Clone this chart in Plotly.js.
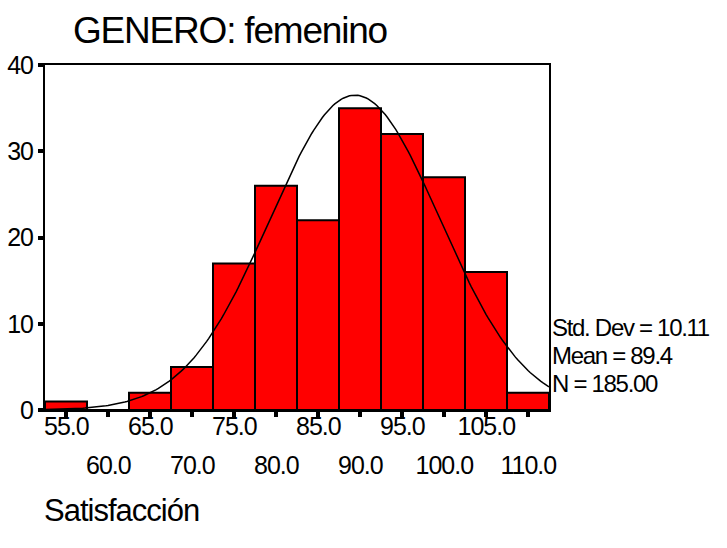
<!DOCTYPE html>
<html>
<head>
<meta charset="utf-8">
<script src="https://cdn.plot.ly/plotly-3.0.1.min.js"></script>
<style>
html,body{margin:0;padding:0;background:#fff;}
#chart{width:727px;height:548px;}
#chart .ytick text { letter-spacing: -1px; }
#chart .gtitle { letter-spacing: -1.2px; }
#chart .annotation-text { letter-spacing: -1px; }
#chart .annotation.stat .annotation-text { letter-spacing: -1.3px; }
</style>
</head>
<body>
<div id="chart"></div>
<script>
// ---- data ----
const binCenters = [55, 60, 65, 70, 75, 80, 85, 90, 95, 100, 105, 110];
const binCounts  = [1, 0, 2, 5, 17, 26, 22, 35, 32, 27, 16, 2];
const binWidth = 5;
const rowOneTicks = [55, 65, 75, 85, 95, 105];
const rowTwoTicks = [60, 70, 80, 90, 100, 110];
const yTicks = [0, 10, 20, 30, 40];
const statMean = 89.4;
const statSD = 10.11;
const statN = 185;
const statLabels = ["Std. Dev = 10.11", "Mean = 89.4", "N = 185.00"];
const titleText = "GENERO: femenino";
const xLabelText = "Satisfacción";

// fitted normal curve (from the reported Mean, Std. Dev and N)
const xMin = 52.5, xMax = 112.5;
const curveX = [], curveY = [];
for (let x = xMin; x <= xMax + 1e-9; x += 0.25) {
  const z = (x - statMean) / statSD;
  curveX.push(x);
  curveY.push(statN * binWidth * Math.exp(-0.5 * z * z) / (statSD * Math.sqrt(2 * Math.PI)));
}

const FONT = "Liberation Sans, Arial, sans-serif";

const traces = [
  {
    type: "bar",
    x: binCenters,
    y: binCounts,
    width: binWidth,
    marker: { color: "#ff0000", line: { color: "#000", width: 2 } },
    hoverinfo: "skip"
  },
  {
    type: "scatter",
    mode: "lines",
    x: curveX,
    y: curveY,
    line: { color: "#000", width: 1.5 },
    hoverinfo: "skip"
  }
];

const annotations = [];
// two staggered rows of x tick labels
rowOneTicks.forEach(v => annotations.push({
  x: v, xref: "x", y: -0.046, yref: "paper", yanchor: "middle", xanchor: "center",
  text: v.toFixed(1), showarrow: false, font: { family: FONT, size: 25, color: "#000" }
}));
rowTwoTicks.forEach(v => annotations.push({
  x: v, xref: "x", y: -0.16, yref: "paper", yanchor: "middle", xanchor: "center",
  text: v.toFixed(1), showarrow: false, font: { family: FONT, size: 25, color: "#000" }
}));
const statY = [0.238, 0.159, 0.078];
statLabels.forEach((t, i) => annotations.push({
  x: 1, xref: "paper", xshift: 1, xanchor: "left", align: "left",
  y: statY[i], yref: "paper", yanchor: "middle",
  text: t, showarrow: false,
  font: { family: FONT, size: 24, color: "#000" }
}));
annotations.push({
  x: 0, xref: "paper", xanchor: "left", align: "left", xshift: -3,
  y: -0.29, yref: "paper", yanchor: "middle",
  text: xLabelText, showarrow: false, font: { family: FONT, size: 31, color: "#000" }
});

const layout = {
  width: 727, height: 548,
  margin: { l: 45, r: 178, t: 65, b: 138 },
  paper_bgcolor: "#fff", plot_bgcolor: "#fff",
  showlegend: false,
  bargap: 0,
  title: {
    text: titleText, xref: "container", x: 73 / 727, xanchor: "left",
    yref: "container", y: 1 - 30 / 548, yanchor: "middle",
    font: { family: FONT, size: 37, color: "#000" }
  },
  xaxis: {
    range: [xMin, xMax],
    tickvals: rowOneTicks.concat(rowTwoTicks),
    showticklabels: false,
    ticks: "outside", ticklen: 5, tickwidth: 4, tickcolor: "#000",
    showline: true, linecolor: "#000", linewidth: 2, mirror: true,
    showgrid: false, zeroline: false
  },
  yaxis: {
    range: [0, 40],
    tickvals: yTicks,
    ticktext: yTicks.map(String),
    ticks: "outside", ticklen: 5, tickwidth: 4, tickcolor: "#000",
    showline: true, linecolor: "#000", linewidth: 2, mirror: true,
    showgrid: false, zeroline: false,
    tickfont: { family: FONT, size: 25, color: "#000" }
  },
  annotations: annotations
};

Plotly.newPlot("chart", traces, layout, { displayModeBar: false, staticPlot: true }).then(gd => {
  // mark the statistics annotations so the condensed spacing applies to them
  gd.querySelectorAll(".annotation").forEach(a => {
    if (statLabels.indexOf(a.textContent) >= 0) a.classList.add("stat");
  });
});
</script>
</body>
</html>
